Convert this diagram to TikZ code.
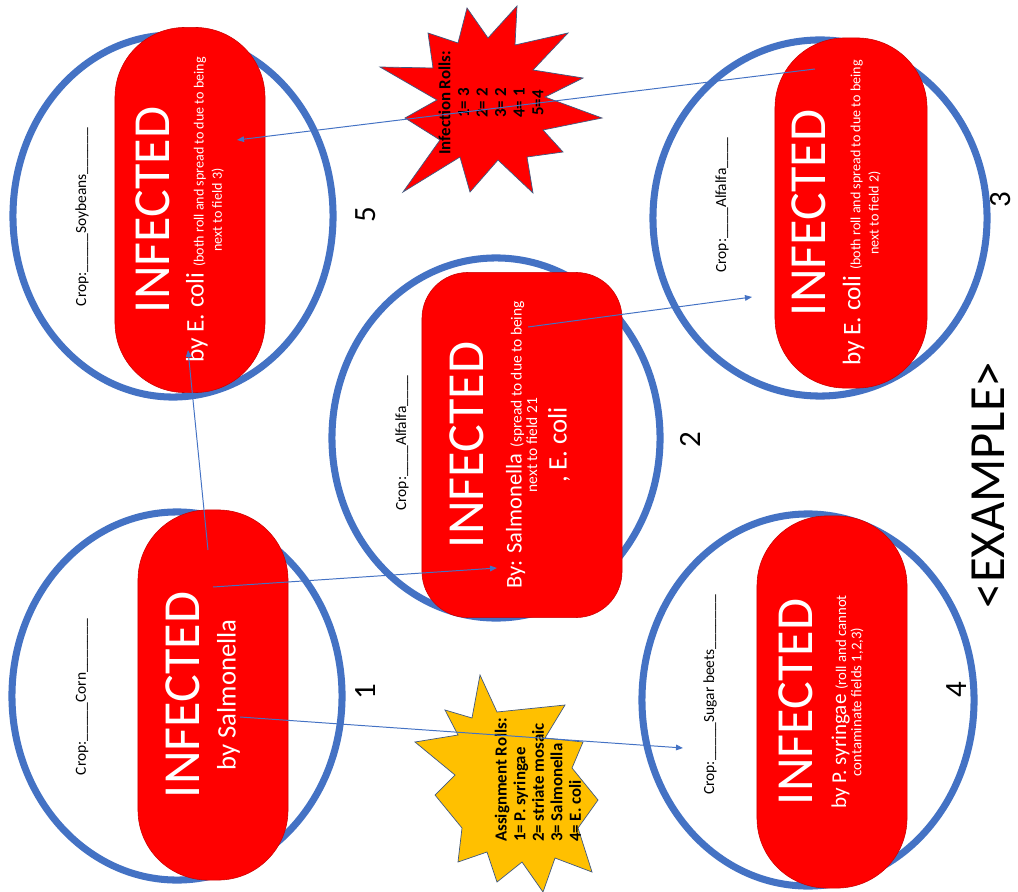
\documentclass[tikz,border=0pt]{standalone}
\usepackage{fontspec}
\setmainfont{Carlito}
\usetikzlibrary{positioning}
\usetikzlibrary{shapes.geometric}
\usetikzlibrary{arrows.meta}

\definecolor{fieldblue}{HTML}{4472C4}
\definecolor{pillred}{HTML}{FF0000}
\definecolor{rollgold}{HTML}{FFC000}
\definecolor{starline}{HTML}{41597F}

\newcommand{\bigword}{\fontsize{37}{37}\selectfont}
\newcommand{\smallnote}{\fontsize{10}{12}\selectfont}

\begin{document}
\begin{tikzpicture}[x = 0.025cm, y = -0.025cm,
    field/.style = {shape = ellipse, draw = fieldblue, line width = 5pt, inner sep = 0pt},
    pill/.style = {shape = rectangle, fill = pillred, draw = red!80!black, line width = 0.4pt, rounded corners = 1.75cm, inner sep = 0pt, minimum width = 3.75cm},
    pilltext/.style = {rotate = 90, align = center, text = white, inner sep = 0pt, font = \fontsize{19}{27}\selectfont},
    croptext/.style = {rotate = 90, inner sep = 0pt, font = \fontsize{11}{13}\selectfont},
    fieldno/.style = {rotate = 90, inner sep = 0pt, font = \fontsize{22}{24}\selectfont},
    rolltext/.style = {rotate = 90, inner sep = 0pt, font = \fontsize{12}{13.2}\selectfont\bfseries},
    link/.style = {draw = fieldblue, line width = 0.7pt, -{Triangle[length = 5pt, width = 4pt]}},
    redstar/.style = {fill = pillred, draw = starline, line width = 0.5pt},
    goldstar/.style = {fill = rollgold, draw = starline, line width = 0.5pt},
    ]
    \useasboundingbox (0,0) rectangle (1018,892);
    \fill[white] (0,0) rectangle (1018,892);

    % fields
    \node[field, minimum width = 8.25cm, minimum height = 9.2cm] (f1) at (177,696) {};
    \node[field, minimum width = 8.2cm, minimum height = 9cm] (f2) at (496,438) {};
    \node[field, minimum width = 8.35cm, minimum height = 8.9cm] (f3) at (820,218) {};
    \node[field, minimum width = 8.3cm, minimum height = 9.3cm] (f4) at (808,700) {};
    \node[field, minimum width = 8cm, minimum height = 9.05cm] (f5) at (173,216) {};

    \node[pill, minimum height = 9.25cm] (p1) at (213,695) {};
    \node[pill, minimum width = 5cm, minimum height = 8.625cm, rounded corners = 1.15cm] (p2) at (522,445) {};
    \node[pill, minimum width = 3.8cm, minimum height = 8.75cm] (p3) at (851,213) {};
    \node[pill, minimum height = 9.3cm] (p4) at (832,702) {};
    \node[pill, minimum height = 9.125cm] (p5) at (190,210) {};

    \node[pilltext] (t1) at ([shift={(-10,0)}]p1.center) {{\bigword INFECTED}\\[-1.5pt]by Salmonella};
    \node[pilltext] (t2) at ([shift={(-12,0)}]p2.center) {{\bigword INFECTED}\\
        {\fontsize{16}{16}\selectfont By: Salmonella} {\fontsize{11}{12}\selectfont (spread to due to being}\\[-16pt]
        {\fontsize{11}{12}\selectfont next to field 21}\\[-6pt]
        , E. coli};
    \node[pilltext, font = \fontsize{18}{27}\selectfont] (t3) at ([shift={(-15,0)}]p3.center) {{\bigword INFECTED}\\[-2pt]
        by E. coli {\smallnote (both roll and spread to due to being}\\[-14pt]
        {\smallnote next to field 2)}};
    \node[pilltext, font = \fontsize{15}{27}\selectfont] (t4) at ([shift={(-11,0)}]p4.center) {{\bigword INFECTED}\\[-3pt]
        by P. syringae {\fontsize{10.5}{12}\selectfont (roll and cannot}\\[-16pt]
        {\fontsize{10.5}{12}\selectfont contaminate fields 1,2,3)}};
    \node[pilltext, font = \fontsize{18}{27}\selectfont] (t5) at ([shift={(-10,0)}]p5.center) {{\bigword INFECTED}\\[-3pt]
        by E. coli {\smallnote (both roll and spread to due to being}\\[-14pt]
        {\smallnote next to field 3)}};

    \node[croptext] (c1) at (82,697) {Crop:\_\_\_\_\_Corn\_\_\_\_\_\_\_};
    \node[croptext] (c2) at (402,443) {Crop:\_\_\_\_Alfalfa\_\_\_\_};
    \node[croptext] (c3) at (722,205) {Crop:\_\_\_\_Alfalfa\_\_\_\_};
    \node[croptext] (c4) at (710,695) {Crop:\_\_\_\_\_Sugar beets\_\_\_\_\_\_\_};
    \node[croptext] (c5) at (82,217) {Crop:\_\_\_\_\_Soybeans\_\_\_\_\_\_};

    \node[fieldno] (n1) at (366,692) {1};
    \node[fieldno] (n2) at (690,440) {2};
    \node[fieldno] (n3) at (1001,200) {3};
    \node[fieldno] (n4) at (957,690) {4};
    \node[fieldno] (n5) at (366,215) {5};

    % roll stars
    \filldraw[redstar] (380,67) -- (433,68) -- (428,33) -- (458,43) -- (467,8) -- (488,38)
        -- (517,6) -- (515,45) -- (568,33) -- (533,70) -- (583,78) -- (545,97)
        -- (602,118) -- (543,130) -- (563,152) -- (527,157) -- (533,193) -- (498,160)
        -- (470,192) -- (460,157) -- (403,192) -- (440,140) -- (405,118) -- (437,100) -- cycle;
    \filldraw[goldstar] (480,675) -- (497,712) -- (565,705) -- (545,738) -- (583,742) -- (572,768)
        -- (598,800) -- (578,828) -- (592,872) -- (555,858) -- (543,892) -- (522,862)
        -- (497,882) -- (487,852) -- (458,862) -- (462,828) -- (435,795) -- (455,775)
        -- (415,742) -- (458,735) -- (445,710) -- (472,718) -- cycle;
    \node[rolltext, align = center] (infroll) at (491,103) {Infection Rolls:\\1= 3\\2= 2\\3= 2\\4= 1\\5=4};
    \node[rolltext, align = left] (asgroll) at (538,780) {Assignment Rolls:\\1= P. syringae\\2= striate mosaic\\3= Salmonella\\4= E. coli};

    \node[rotate = 90, inner sep = 0pt, font = \fontsize{36}{40}\selectfont] (tag) at (988,485) {<EXAMPLE>};

    % spread arrows
    \draw[link] ([shift={(-5,-145)}]p1.center) -- ([shift={(-2,140)}]p5.center);
    \draw[link] ([shift={(0,-108)}]p1.center) -- ([shift={(-25,123)}]p2.center);
    \draw[link] ([shift={(27,22)}]p1.center) -- ([shift={(-125,48)}]f4.center);
    \draw[link] ([shift={(6,-118)}]p2.center) -- ([shift={(-68,79)}]f3.center);
    \draw[link] ([shift={(-36,-144)}]p3.center) -- ([shift={(47,-70)}]p5.center);
\end{tikzpicture}
\end{document}
